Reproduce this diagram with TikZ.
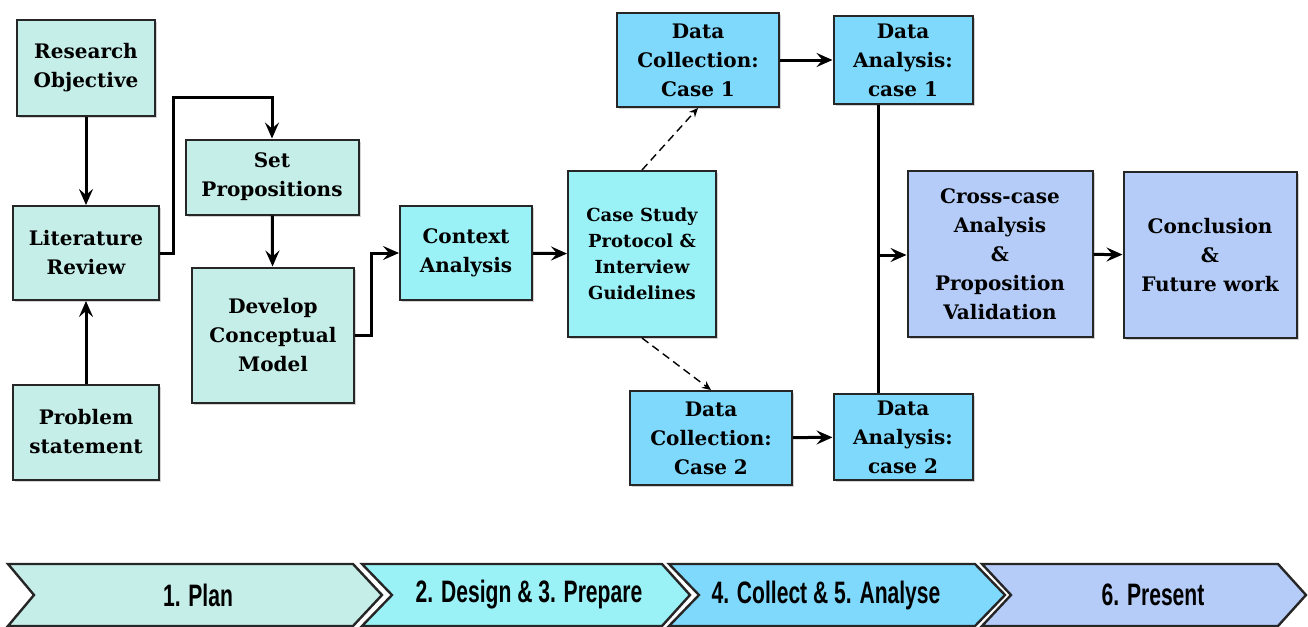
\documentclass[tikz,border=0pt]{standalone}
\usepackage{fontspec}
\setmainfont{DejaVu Serif}
\newfontfamily\barfont{Liberation Sans}
\usetikzlibrary{arrows.meta,shadows}

\definecolor{plancol}{HTML}{C6EEE8}
\definecolor{designcol}{HTML}{9AF2F7}
\definecolor{collectcol}{HTML}{7FD9FC}
\definecolor{presentcol}{HTML}{B5CCF8}

\tikzset{
  box/.style={draw=black!85, line width=1pt, align=center, inner sep=0pt,
    font=\bfseries\fontsize{10}{14.5}\selectfont,
    drop shadow={shadow xshift=1pt, shadow yshift=-1pt, opacity=0.35}},
  plan/.style={box, fill=plancol},
  design/.style={box, fill=designcol},
  collect/.style={box, fill=collectcol},
  present/.style={box, fill=presentcol},
  flow/.style={line width=1.5pt, -{Stealth[length=8pt,width=7pt,inset=3pt]}},
  maybe/.style={line width=0.7pt, dash pattern=on 4pt off 2.5pt, -{Stealth[length=4.5pt,width=4pt]}},
  chev/.style={draw=black!85, line width=1.2pt},
  chevtext/.style={font=\barfont\bfseries\fontsize{15.5}{15.5}\selectfont}
}

\begin{document}
\begin{tikzpicture}[x=0.5pt, y=-0.5pt]
  \useasboundingbox (0,0) rectangle (1308,627);
  % plan
  \node[plan, minimum width=69pt, minimum height=48pt] (ro) at (86,68) {Research\\Objective};
  \node[plan, minimum width=73pt, minimum height=47pt] (lr) at (86,253) {Literature\\Review};
  \node[plan, minimum width=73pt, minimum height=47.5pt] (ps) at (86,432) {Problem\\statement};
  \node[plan, minimum width=86.5pt, minimum height=37.5pt] (sp) at (272,177) {Set\\Propositions};
  \node[plan, minimum width=81pt, minimum height=67.5pt] (dcm) at (273,335) {Develop\\Conceptual\\Model};
  % design & prepare
  \node[design, minimum width=66pt, minimum height=47pt] (ca) at (466,253) {Context\\Analysis};
  \node[design, minimum width=74pt, minimum height=83pt, font=\bfseries\fontsize{9}{13}\selectfont] (csp) at (642,254) {Case Study\\Protocol \&\\Interview\\Guidelines};
  % collect & analyse
  \node[collect, minimum width=81pt, minimum height=47pt] (dc1) at (698,60) {Data\\Collection:\\Case 1};
  \node[collect, minimum width=69.5pt, minimum height=44pt] (da1) at (903,60) {Data\\Analysis:\\case 1};
  \node[collect, minimum width=81pt, minimum height=47pt] (dc2) at (711,438) {Data\\Collection:\\Case 2};
  \node[collect, minimum width=69.5pt, minimum height=43pt] (da2) at (903,437) {Data\\Analysis:\\case 2};
  % present
  \node[present, minimum width=92.5pt, minimum height=83pt] (cross) at (1000,254) {Cross-case\\Analysis\\\&\\Proposition\\Validation};
  \node[present, minimum width=86.5pt, minimum height=83pt] (conc) at (1210,255) {Conclusion\\\&\\Future work};

  \draw[flow] (ro) -- (lr);
  \draw[flow] (ps) -- (lr);
  \draw[flow] (lr.east) -- ++(13,0) -- ++(0,-156) -| (sp.north);
  \draw[flow] (sp) -- (dcm);
  \draw[flow] (dcm.east) -- ++(16,0) |- (ca.west);
  \draw[flow] (ca) -- (csp);
  \draw[maybe] (csp.north) -- (dc1.south);
  \draw[maybe] (csp.south) -- (dc2.north);
  \draw[flow] (dc1) -- (da1);
  \draw[flow] (dc2) -- (da2);
  \coordinate (join) at (878,255);
  \draw[line width=1.5pt] ([xshift=-12.5pt]da1.south) -- ([xshift=-12.5pt]da2.north);
  \draw[flow] (join) -- (join -| cross.west);
  \draw[flow] (cross) -- (conc);

  % phase bar
  \draw[chev, fill=plancol] (8,564) -- (353,564) -- (382,595) -- (353,626) -- (8,626) -- (34,595) -- cycle;
  \draw[chev, fill=designcol] (362,564) -- (662,564) -- (690,595) -- (662,626) -- (362,626) -- (392,595) -- cycle;
  \draw[chev, fill=collectcol] (669,564) -- (975,564) -- (1005,595) -- (975,626) -- (669,626) -- (699,595) -- cycle;
  \draw[chev, fill=presentcol] (982,564) -- (1278,564) -- (1306,595) -- (1278,626) -- (982,626) -- (1011,595) -- cycle;
  \node[chevtext] (p1) at (198,595) {\scalebox{0.68}[1]{1. Plan}};
  \node[chevtext] (p2) at (529,595) {\scalebox{0.68}[1]{2. Design \& 3. Prepare}};
  \node[chevtext] (p3) at (826,595) {\scalebox{0.68}[1]{4. Collect \& 5. Analyse}};
  \node[chevtext] (p4) at (1153,595) {\scalebox{0.68}[1]{6. Present}};
\end{tikzpicture}
\end{document}
